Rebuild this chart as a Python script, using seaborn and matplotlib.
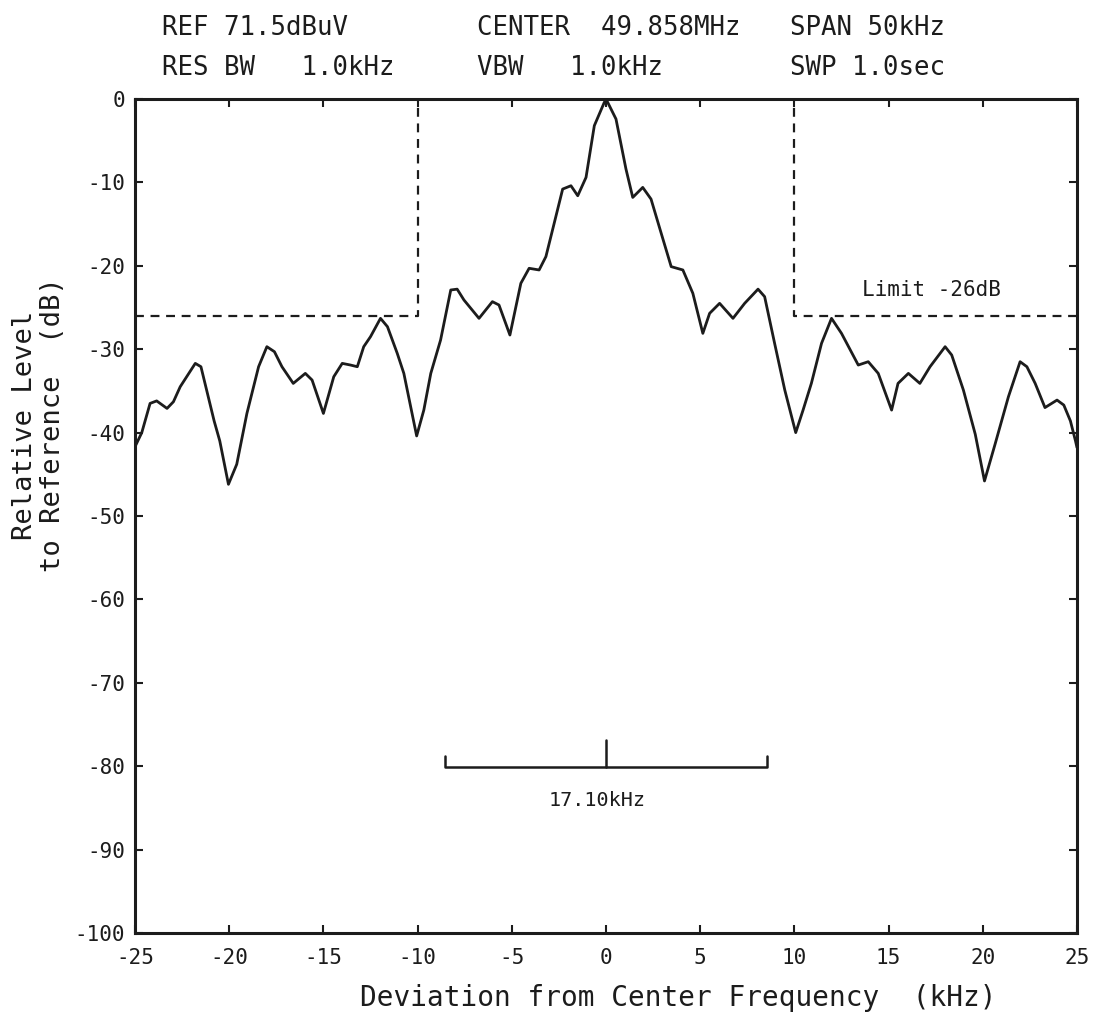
import matplotlib
matplotlib.use("Agg")
import matplotlib.pyplot as plt
import seaborn as sns
import pandas as pd

# trace (kHz from center, dB relative to reference)
freq_khz = [-25.0, -24.64, -24.2, -23.85, -23.3, -22.96, -22.6, -21.8, -21.5, -20.8,
            -20.5, -20.04, -19.6, -19.06, -18.44, -18.0, -17.6, -17.2, -16.6, -15.96,
            -15.6, -15.0, -14.45, -14.0, -13.56, -13.2, -12.86, -12.5, -11.97, -11.6,
            -11.08, -10.73, -10.05, -9.67, -9.3, -8.78, -8.24, -7.9, -7.54, -6.74,
            -6.03, -5.68, -5.1, -4.52, -4.08, -3.55, -3.19, -2.75, -2.3, -1.86,
            -1.5, -1.06, -0.62, -0.09, 0.0, 0.09, 0.53, 1.06, 1.42, 1.95,
            2.39, 2.93, 3.46, 4.08, 4.61, 5.14, 5.5, 6.03, 6.74, 7.36,
            8.07, 8.42, 8.95, 9.49, 10.07, 10.46, 10.9, 11.44, 11.97, 12.5,
            13.39, 13.92, 14.45, 15.16, 15.5, 16.05, 16.66, 17.2, 18.0, 18.35,
            18.97, 19.6, 20.09, 20.65, 21.36, 21.98, 22.34, 22.78, 23.3, 23.94,
            24.3, 24.65, 24.92, 25.0]
level_db = [-41.7, -40.0, -36.5, -36.2, -37.1, -36.3, -34.5, -31.7, -32.1, -38.6,
            -41.0, -46.2, -43.8, -37.7, -32.1, -29.7, -30.3, -32.1, -34.1, -32.9,
            -33.7, -37.7, -33.3, -31.7, -31.9, -32.1, -29.7, -28.5, -26.3, -27.3,
            -30.5, -32.9, -40.4, -37.3, -32.9, -28.9, -22.9, -22.8, -24.1, -26.3,
            -24.3, -24.7, -28.3, -22.1, -20.3, -20.5, -18.9, -14.9, -10.8, -10.4,
            -11.6, -9.4, -3.2, -0.4, -0.1, -0.4, -2.4, -8.4, -11.8, -10.6,
            -12.0, -16.1, -20.1, -20.5, -23.3, -28.1, -25.7, -24.5, -26.3, -24.5,
            -22.8, -23.7, -29.3, -34.9, -40.0, -37.3, -34.1, -29.3, -26.3, -28.1,
            -31.9, -31.5, -32.9, -37.3, -34.1, -32.9, -34.1, -32.1, -29.7, -30.7,
            -34.9, -40.2, -45.8, -41.4, -35.7, -31.5, -32.1, -34.1, -37.0, -36.1,
            -36.7, -38.6, -41.0, -41.8]

limit_db = -26
limit_edge_khz = 10
span_khz = 17.10
span_level_db = -80.1

x_ticks = list(range(-25, 26, 5))
y_ticks = list(range(-100, 1, 10))

header_rows = [
    ["REF 71.5dBuV", "CENTER  49.858MHz", "SPAN 50kHz"],
    ["RES BW   1.0kHz", "VBW   1.0kHz", "SWP 1.0sec"],
]

sns.set_style("ticks")
plt.rcParams['font.family'] = ['DejaVu Sans Mono', 'DejaVu Sans']
plt.rcParams['axes.unicode_minus'] = False
ink = "#1c1c1c"

W, H = 1095, 1015
fig = plt.figure(figsize=(W / 100, H / 100), dpi=100)
ax = fig.add_axes([135 / W, 1 - 933 / H, 942 / W, 834 / H])

df = pd.DataFrame({"freq": freq_khz, "level": level_db})
sns.lineplot(data=df, x="freq", y="level", ax=ax, color=ink, linewidth=2.0, sort=False,
             solid_joinstyle="round")

# limit mask, dashed
dash = dict(color=ink, linewidth=1.6, linestyle=(0, (4, 3)))
ax.plot([-25, -limit_edge_khz, -limit_edge_khz], [limit_db, limit_db, 0], **dash)
ax.plot([25, limit_edge_khz, limit_edge_khz], [limit_db, limit_db, 0], **dash)
ax.text(17.3, -22.9, "Limit -26dB", ha="center", va="center", fontsize=15, color=ink)

# occupied bandwidth bracket
half = span_khz / 2
ax.plot([-half, -half, half, half], [span_level_db + 1.3, span_level_db, span_level_db, span_level_db + 1.3],
        color=ink, linewidth=1.8)
ax.plot([0, 0], [span_level_db, span_level_db + 3.2], color=ink, linewidth=1.8)
ax.text(-0.48, -84.1, "%.2fkHz" % span_khz, ha="center", va="center", fontsize=14.5, color=ink)

ax.set_xlim(-25, 25)
ax.set_ylim(-100, 0)
ax.set_xticks(x_ticks)
ax.set_yticks(y_ticks)
ax.set_xlabel("")
ax.set_ylabel("")
for s in ax.spines.values():
    s.set_visible(True)
    s.set_linewidth(2.2)
    s.set_color(ink)
ax.tick_params(direction="in", top=True, right=True, length=6, width=1.5,
               labelsize=15, colors=ink)
ax.tick_params(axis="x", pad=11)
ax.tick_params(axis="y", pad=7)

# header lines
col_x = [162, 477, 790]
row_y = [28, 68]
for r, row in enumerate(header_rows):
    for c, txt in enumerate(row):
        fig.text(col_x[c] / W, 1 - row_y[r] / H, txt, ha="left", va="center",
                 fontsize=18.5, color=ink)

fig.text(678 / W, 1 - 998 / H, "Deviation from Center Frequency  (kHz)",
         ha="center", va="center", fontsize=20, color=ink)
fig.text(39 / W, 1 - 425 / H, "Relative Level\nto Reference  (dB)", rotation=90,
         ha="center", va="center", multialignment="center", linespacing=1.12,
         fontsize=19.5, color=ink)

fig.savefig("out.png", dpi=100, facecolor="white")
